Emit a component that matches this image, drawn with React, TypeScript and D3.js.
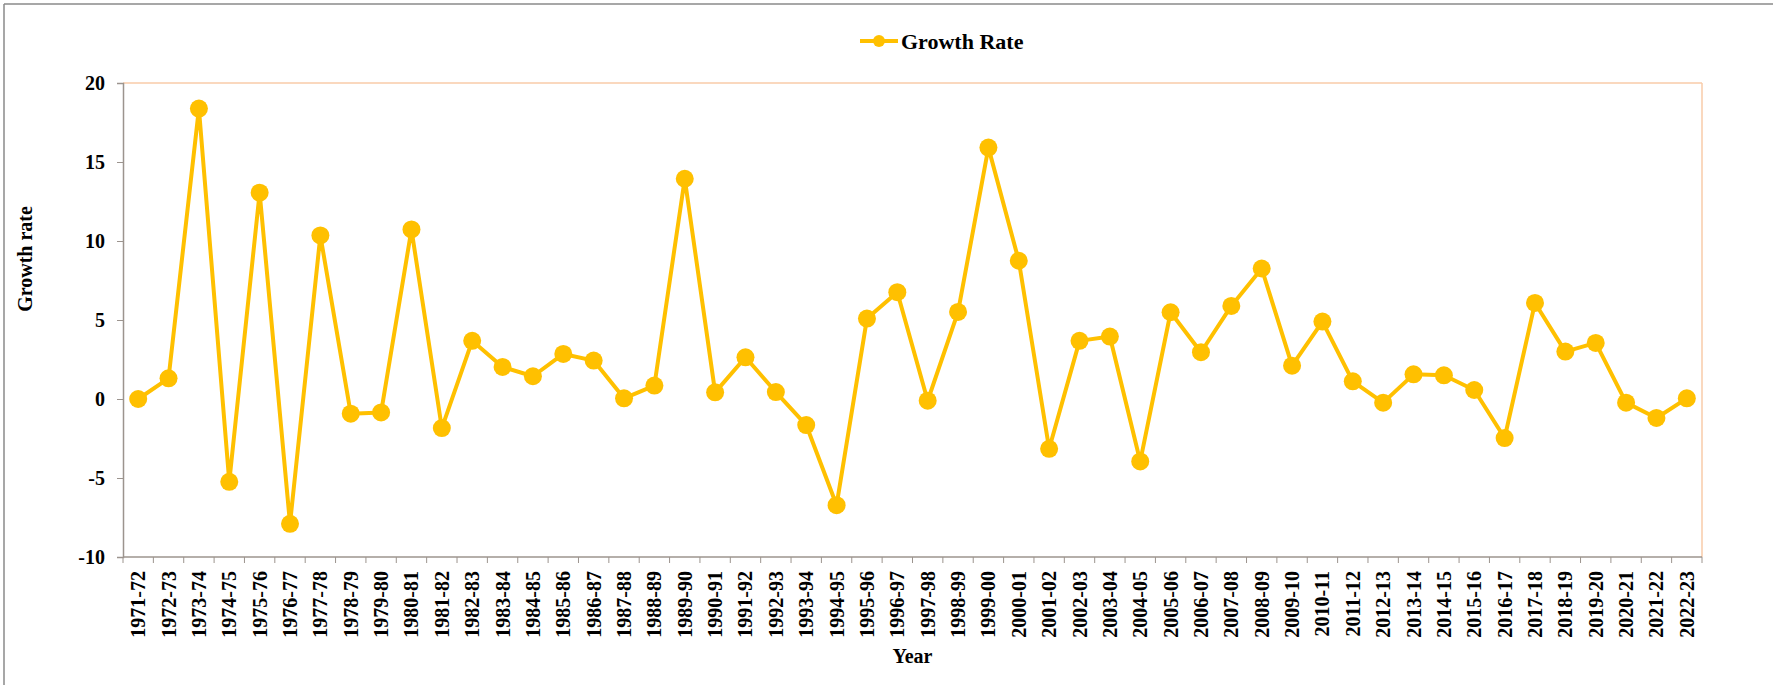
import { useEffect, useRef } from 'react'
import * as d3 from 'd3'

const years = [
  '1971-72', '1972-73', '1973-74', '1974-75', '1975-76', '1976-77', '1977-78', '1978-79',
  '1979-80', '1980-81', '1981-82', '1982-83', '1983-84', '1984-85', '1985-86', '1986-87',
  '1987-88', '1988-89', '1989-90', '1990-91', '1991-92', '1992-93', '1993-94', '1994-95',
  '1995-96', '1996-97', '1997-98', '1998-99', '1999-00', '2000-01', '2001-02', '2002-03',
  '2003-04', '2004-05', '2005-06', '2006-07', '2007-08', '2008-09', '2009-10', '2010-11',
  '2011-12', '2012-13', '2013-14', '2014-15', '2015-16', '2016-17', '2017-18', '2018-19',
  '2019-20', '2020-21', '2021-22', '2022-23',
]

const growthRate = [
  0.0, 1.31, 18.38, -5.24, 13.06, -7.9, 10.35, -0.93,
  -0.85, 10.73, -1.84, 3.68, 2.03, 1.44, 2.85, 2.43,
  0.04, 0.85, 13.94, 0.42, 2.64, 0.44, -1.65, -6.72,
  5.09, 6.76, -0.11, 5.51, 15.91, 8.75, -3.15, 3.68,
  3.95, -3.95, 5.49, 2.96, 5.89, 8.26, 2.11, 4.9,
  1.12, -0.23, 1.56, 1.5, 0.57, -2.47, 6.08, 3.0,
  3.55, -0.23, -1.2, 0.04,
]

const yTicks = [-10, -5, 0, 5, 10, 15, 20]

const W = 1773
const H = 685
const FONT = '"Liberation Serif", "Times New Roman", serif'
const LINE = '#FFC000'

export default function App() {
  const svgRef = useRef<SVGSVGElement>(null)

  useEffect(() => {
    if (!svgRef.current) return
    const svg = d3.select(svgRef.current)
    svg.selectAll('*').remove()

    const margin = { top: 83, bottom: 128, left: 123, right: 71 }
    const innerW = W - margin.left - margin.right
    const innerH = H - margin.top - margin.bottom

    // outer chart frame (only top / left visible in the crop)
    svg.append('line')
      .attr('x1', 4).attr('x2', W).attr('y1', 4).attr('y2', 4)
      .attr('stroke', '#8a8a8a').attr('stroke-width', 1.5)
    svg.append('line')
      .attr('x1', 4).attr('x2', 4).attr('y1', 4).attr('y2', H)
      .attr('stroke', '#8a8a8a').attr('stroke-width', 1.5)

    const x = d3.scaleBand<string>().domain(years).range([0, innerW])
    const y = d3.scaleLinear().domain([-10, 20]).range([innerH, 0])

    const g = svg.append('g')
      .attr('transform', `translate(${margin.left},${margin.top})`)

    // plot area border: peach top/right
    g.append('line')
      .attr('x1', 0).attr('x2', innerW).attr('y1', 0).attr('y2', 0)
      .attr('stroke', '#F9CBA8').attr('stroke-width', 1.5)
    g.append('line')
      .attr('x1', innerW).attr('x2', innerW).attr('y1', 0).attr('y2', innerH)
      .attr('stroke', '#F9CBA8').attr('stroke-width', 1.5)

    // y axis
    const yAxis = g.append('g')
      .call(d3.axisLeft(y).tickValues(yTicks).tickSize(6).tickPadding(12).tickSizeOuter(6)
        .tickFormat(d => String(d)))
    yAxis.select('.domain').attr('stroke', '#9c948e').attr('stroke-width', 1.5)
    yAxis.selectAll('.tick line').attr('stroke', '#9c948e').attr('stroke-width', 1)
    yAxis.selectAll('.tick text')
      .attr('fill', '#000')
      .style('font-family', FONT).style('font-size', '20px').style('font-weight', 'bold')

    // x axis: ticks at category boundaries
    const xg = g.append('g').attr('transform', `translate(0,${innerH})`)
    xg.append('line')
      .attr('x1', 0).attr('x2', innerW).attr('y1', 0).attr('y2', 0)
      .attr('stroke', '#9c948e').attr('stroke-width', 1.5)
    const bounds = years.map(d => x(d) as number).concat([innerW])
    bounds.forEach(b => {
      xg.append('line')
        .attr('x1', b).attr('x2', b).attr('y1', 0).attr('y2', 6)
        .attr('stroke', '#9c948e').attr('stroke-width', 1)
    })
    years.forEach(d => {
      const cx = (x(d) as number) + x.bandwidth() / 2
      xg.append('text')
        .attr('transform', `translate(${cx},14) rotate(-90)`)
        .attr('text-anchor', 'end')
        .attr('dy', '0.35em')
        .attr('fill', '#000')
        .style('font-family', FONT).style('font-size', '20px').style('font-weight', 'bold')
        .text(d)
    })

    // axis titles
    svg.append('text')
      .attr('x', margin.left + innerW / 2).attr('y', 663)
      .attr('text-anchor', 'middle')
      .style('font-family', FONT).style('font-size', '20px').style('font-weight', 'bold')
      .text('Year')
    svg.append('text')
      .attr('transform', `translate(32,259) rotate(-90)`)
      .attr('text-anchor', 'middle')
      .style('font-family', FONT).style('font-size', '20px').style('font-weight', 'bold')
      .text('Growth rate')

    // series
    const pts = years.map((d, i) => ({ year: d, v: growthRate[i] }))
    const cx = (d: string) => (x(d) as number) + x.bandwidth() / 2
    const line = d3.line<{ year: string; v: number }>()
      .x(d => cx(d.year))
      .y(d => y(d.v))
    g.append('path')
      .datum(pts)
      .attr('d', line)
      .attr('fill', 'none')
      .attr('stroke', LINE)
      .attr('stroke-width', 4)
      .attr('stroke-linejoin', 'round')
    g.selectAll('circle.pt')
      .data(pts)
      .join('circle')
      .attr('class', 'pt')
      .attr('cx', d => cx(d.year))
      .attr('cy', d => y(d.v))
      .attr('r', 9)
      .attr('fill', LINE)

    // legend
    const lg = svg.append('g').attr('transform', 'translate(860,41)')
    lg.append('line')
      .attr('x1', 0).attr('x2', 38).attr('y1', 0).attr('y2', 0)
      .attr('stroke', LINE).attr('stroke-width', 4)
    lg.append('circle').attr('cx', 19).attr('cy', 0).attr('r', 6).attr('fill', LINE)
    lg.append('text')
      .attr('x', 41).attr('y', 0).attr('dy', '0.35em')
      .style('font-family', FONT).style('font-size', '22px').style('font-weight', 'bold')
      .text('Growth Rate')
  }, [])

  return (
    <div style={{ position: 'absolute', left: 0, top: 0, width: W, height: H, background: '#fff' }}>
      <svg ref={svgRef} width={W} height={H} style={{ display: 'block' }} />
    </div>
  )
}
